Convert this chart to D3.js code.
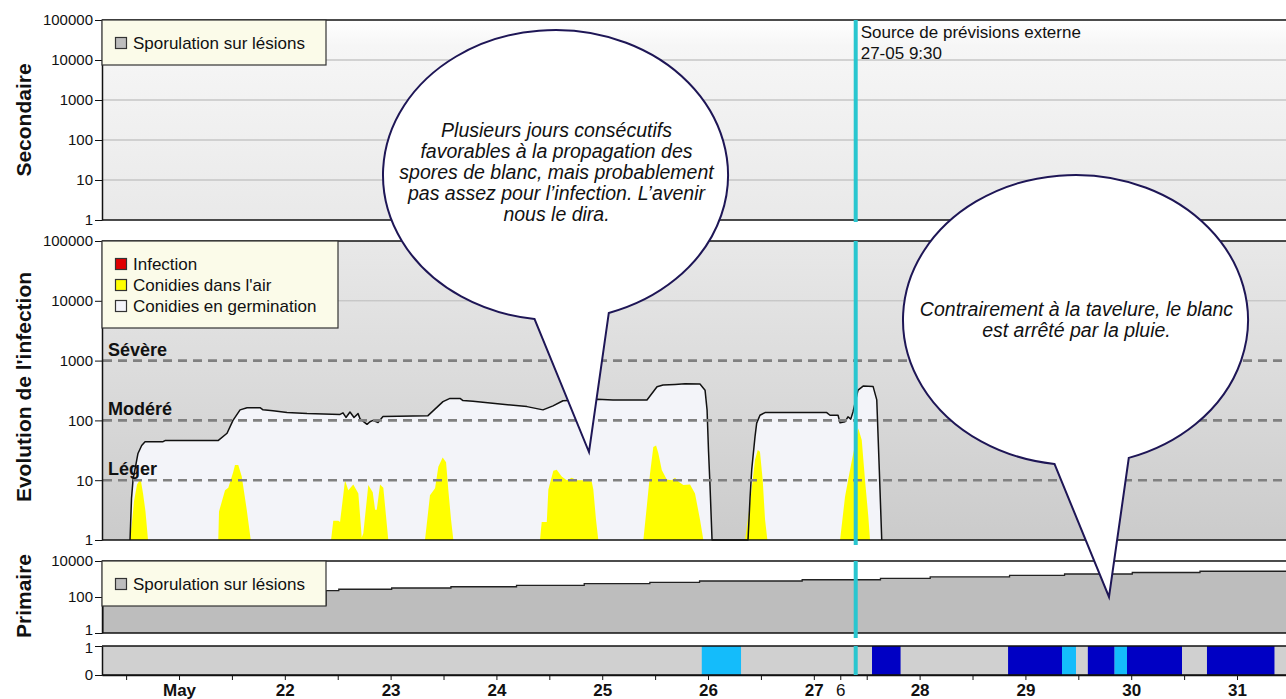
<!DOCTYPE html>
<html>
<head>
<meta charset="utf-8">
<script src="https://cdn.jsdelivr.net/npm/d3@7"></script>
<style>
  html, body { margin: 0; padding: 0; background: #fff; }
  svg { display: block; font-family: "Liberation Sans", Arial, Helvetica, sans-serif; }
</style>
</head>
<body>
<svg id="chart" width="1286" height="699"></svg>
<script>
// ---------------------------------------------------------------
// Data (times are decimal days of May: 20.5 = 20 May 12:00)
// ---------------------------------------------------------------
const dayLabelTimes = [21, 22, 23, 24, 25, 26, 27, 28, 29, 30, 31];
const dayLabels     = ["May", "22", "23", "24", "25", "26", "27", "28", "29", "30", "31"];
const hourTickTime  = 27.25;
const hourTickLabel = "6";

const forecastTime  = 27.396;                 // 27-05 9:30
const forecastText  = ["Source de prévisions externe", "27-05 9:30"];

const logTicksSec   = [1, 10, 100, 1000, 10000, 100000];
const logTicksInf   = [1, 10, 100, 1000, 10000, 100000];
const logTicksPri   = [1, 100, 10000];
const rainTicks     = [0, 1];

const levelValues   = [1000, 100, 10];
const levelLabels   = ["Sévère", "Modéré", "Léger"];

// conidies en germination
const germTimes = [20.537,20.551,20.565,20.612,20.647,20.679,20.849,20.868,21.369,21.454,
  21.510,21.577,21.643,21.766,21.794,21.888,22.021,22.210,22.522,22.550,
  22.578,22.616,22.654,22.692,22.711,22.777,22.805,22.834,22.881,22.928,
  23.353,23.495,23.561,23.656,23.684,23.779,24.034,24.289,24.440,24.535,
  24.629,24.951,25.102,25.423,25.518,25.575,25.688,25.783,25.924,25.972,
  25.991,26.005,26.019,26.038,26.378,26.397,26.413,26.444,26.460,26.491,
  26.539,27.122,27.153,27.229,27.248,27.295,27.323,27.349,27.371,27.418,
  27.466,27.560,27.595,27.619,27.642];
const germValues = [1,5,10,28,38,44,44,46,46,61,
  100,150,163,163,150,145,136,130,126,134,
  112,138,112,130,106,86,95,100,92,116,
  120,206,233,233,215,210,188,170,150,175,
  213,225,220,220,365,390,400,410,405,320,
  150,30,8,1,1,5,15,53,90,122,
  135,135,122,122,91,95,115,105,140,320,
  375,370,220,15,1];

// conidies dans l'air
const airTimes = [
  20.537,20.556,20.575,20.603,20.627,20.641,20.660,20.683,20.707,
  21.371,21.378,21.435,21.466,21.513,21.529,21.560,21.593,21.640,21.678,
  22.437,22.458,22.506,22.522,22.569,22.600,22.647,22.695,22.727,22.742,22.789,22.831,22.853,22.869,22.900,22.931,22.978,
  23.325,23.372,23.420,23.451,23.492,23.524,23.545,23.571,23.593,
  24.412,24.428,24.476,24.491,24.538,24.570,24.617,24.665,24.712,24.759,24.821,24.853,24.901,24.916,24.941,24.963,
  25.389,25.421,25.452,25.483,25.509,25.530,25.563,25.610,25.657,25.688,25.719,25.767,25.830,25.877,25.924,25.956,
  26.350,26.397,26.444,26.470,26.491,26.517,26.539,26.561,
  27.248,27.295,27.342,27.390,27.421,27.453,27.484,27.515,27.531];
const airValues = [
  1,2,4.5,8.5,10,9.5,6,3,1,
  1,3,6.8,7.5,13.8,18,18,11.5,3.2,1,
  1,2.1,2.1,2,10,6.8,8.5,6,1.1,1.3,8.3,6.3,3.2,3.2,8.5,7.5,1,
  1,5.6,7.3,16.8,24,20,7,2.2,1,
  1,2,2,7,14.4,15,11.5,10,11,10,10,10.3,9.4,7,2.2,1,
  1,3.6,13,36,38,28.5,14.8,10.3,10,11,9.5,8.3,8.5,6,2.2,1,
  1,4.1,21.7,32,30,10,2.2,1,
  1,5.3,14.8,40,73,47,10,2.5,1];

// sporulation primaire (cumulative, stepwise)
const primaryTimes  = [20.28, 20.28, 22.39, 22.51, 23.01, 23.57, 24.19, 24.83, 25.45, 25.92,
  26.89, 27.63, 28.10, 28.85, 29.37, 30.01, 30.65, 31.47];
const primaryValues = [1, 36, 224, 269, 316, 372, 447, 549, 656, 776,
  911, 1093, 1300, 1600, 1900, 2300, 2700, 2700];

// wetness / rain periods
const rainStart = [25.941, 27.550, 28.836, 29.346, 29.590, 29.843, 29.960, 30.716];
const rainEnd   = [26.312, 27.820, 29.346, 29.478, 29.843, 29.960, 30.480, 31.354];
const rainKind  = ["wet", "rain", "rain", "wet", "rain", "wet", "rain", "rain"];

const legendSecondary = [{ label: "Sporulation sur lésions", color: "#bdbdbd" }];
const legendInfection = [
  { label: "Infection", color: "#e00000" },
  { label: "Conidies dans l'air", color: "#ffff00" },
  { label: "Conidies en germination", color: "#f4f4fa" }
];
const legendPrimary = [{ label: "Sporulation sur lésions", color: "#bdbdbd" }];

const notes = [
  { time: 24.875, panel: "inf", value: 29.6,
    lines: ["Plusieurs jours consécutifs", "favorables à la propagation des",
            "spores de blanc, mais probablement", "pas assez pour l\u2019infection. L\u2019avenir",
            "nous le dira."], firstDy: -38 },
  { time: 29.79, panel: "pri", value: 100,
    lines: ["Contrairement à la tavelure, le blanc", "est arrêté par la pluie."], firstDy: -4.5 }
];

// ---------------------------------------------------------------
// Layout & scales
// ---------------------------------------------------------------
const W = 1286, left = 102;
const P = {
  sec:  { top: 20,  bottom: 220 },
  inf:  { top: 241, bottom: 540 },
  pri:  { top: 561, bottom: 633 },
  rain: { top: 646, bottom: 675 }
};
const toDate = d => new Date(Date.UTC(2019, 4, 1) + (d - 1) * 864e5);

const x = d3.scaleUtc().domain([toDate(20.272), toDate(31.463)]).range([left, W]);
const ySec  = d3.scaleLog().domain([1, 1e5]).range([P.sec.bottom, P.sec.top]);
const yInf  = d3.scaleLog().domain([1, 1e5]).range([P.inf.bottom, P.inf.top]);
const yPri  = d3.scaleLog().domain([1, 1e4]).range([P.pri.bottom, P.pri.top]);
const yRain = d3.scaleLinear().domain([0, 1]).range([P.rain.bottom, P.rain.top]);
const yOf = { sec: ySec, inf: yInf, pri: yPri };

const svg = d3.select("#chart");
const defs = svg.append("defs");
defs.append("clipPath").attr("id", "plotClip")
  .append("rect").attr("x", left).attr("y", 0).attr("width", W - left).attr("height", 699);

function vGradient(id, stops) {
  const g = defs.append("linearGradient").attr("id", id)
    .attr("x1", 0).attr("y1", 0).attr("x2", 0).attr("y2", 1);
  stops.forEach(([o, c]) => g.append("stop").attr("offset", o).attr("stop-color", c));
}
vGradient("gSec", [[0, "#ffffff"], [0.13, "#f6f6f6"], [1, "#e9e9e9"]]);
vGradient("gInf", [[0, "#e8e8e8"], [0.5, "#dadada"], [1, "#cbcbcb"]]);

const plot = svg.append("g").attr("clip-path", "url(#plotClip)");

// ---------------------------------------------------------------
// Secondary panel
// ---------------------------------------------------------------
plot.append("rect").attr("x", left).attr("y", P.sec.top)
  .attr("width", W - left).attr("height", P.sec.bottom - P.sec.top).attr("fill", "url(#gSec)");
plot.selectAll(".gridSec").data(logTicksSec.slice(1, -1)).join("line")
  .attr("x1", left).attr("x2", W).attr("y1", d => ySec(d)).attr("y2", d => ySec(d))
  .attr("stroke", "#c6c6c6").attr("stroke-width", 1.3);

// ---------------------------------------------------------------
// Infection panel
// ---------------------------------------------------------------
plot.append("rect").attr("x", left).attr("y", P.inf.top)
  .attr("width", W - left).attr("height", P.inf.bottom - P.inf.top).attr("fill", "url(#gInf)");
plot.append("line").attr("x1", left).attr("x2", W)
  .attr("y1", yInf(10000)).attr("y2", yInf(10000)).attr("stroke", "#bdbdbd").attr("stroke-width", 1);

const germ = germTimes.map((t, i) => ({ t: toDate(t), v: germValues[i] }));
const air  = airTimes.map((t, i) => ({ t: toDate(t), v: airValues[i] }));

plot.append("path").datum(germ)
  .attr("fill", "#f3f4f9")
  .attr("d", d3.area().x(d => x(d.t)).y0(yInf(1)).y1(d => yInf(d.v)));
plot.append("path").datum(air)
  .attr("fill", "#ffff00")
  .attr("d", d3.area().x(d => x(d.t)).y0(yInf(1)).y1(d => yInf(d.v)));
plot.append("path").datum(germ)
  .attr("fill", "none").attr("stroke", "#111").attr("stroke-width", 1.5)
  .attr("stroke-linejoin", "round")
  .attr("d", d3.line().x(d => x(d.t)).y(d => yInf(d.v)));

// severity thresholds
plot.selectAll(".level").data(levelValues).join("line")
  .attr("x1", left + 1).attr("x2", W).attr("y1", d => yInf(d)).attr("y2", d => yInf(d))
  .attr("stroke", "#808080").attr("stroke-width", 2.6).attr("stroke-dasharray", "9,6");
svg.selectAll(".levelLabel").data(levelValues).join("text")
  .attr("x", left + 6).attr("y", d => yInf(d) - 5)
  .attr("font-size", 18).attr("font-weight", "bold").attr("fill", "#111")
  .text((d, i) => levelLabels[i]);

// ---------------------------------------------------------------
// Primary panel
// ---------------------------------------------------------------
plot.append("rect").attr("x", left).attr("y", P.pri.top)
  .attr("width", W - left).attr("height", P.pri.bottom - P.pri.top).attr("fill", "#ffffff");
const prim = primaryTimes.map((t, i) => ({ t: toDate(t), v: primaryValues[i] }));
plot.append("path").datum(prim).attr("fill", "#bdbdbd")
  .attr("d", d3.area().curve(d3.curveStepAfter).x(d => x(d.t)).y0(yPri(1)).y1(d => yPri(d.v)));
plot.append("path").datum(prim).attr("fill", "none").attr("stroke", "#222").attr("stroke-width", 1.3)
  .attr("d", d3.line().curve(d3.curveStepAfter).x(d => x(d.t)).y(d => yPri(d.v)));

// ---------------------------------------------------------------
// Rain panel
// ---------------------------------------------------------------
plot.append("rect").attr("x", left).attr("y", P.rain.top)
  .attr("width", W - left).attr("height", P.rain.bottom - P.rain.top).attr("fill", "#d0d0d0");
const rain = rainStart.map((s, i) => ({ s: toDate(s), e: toDate(rainEnd[i]), k: rainKind[i] }));
plot.selectAll(".rain").data(rain).join("rect")
  .attr("x", d => x(d.s)).attr("width", d => x(d.e) - x(d.s))
  .attr("y", yRain(1)).attr("height", yRain(0) - yRain(1))
  .attr("fill", d => d.k === "rain" ? "#0000c4" : "#14bcfb");

// ---------------------------------------------------------------
// Panel frames (top/bottom rules)
// ---------------------------------------------------------------
Object.values(P).forEach(p => {
  [p.top, p.bottom].forEach(yy => {
    svg.append("line").attr("x1", left).attr("x2", W).attr("y1", yy).attr("y2", yy)
      .attr("stroke", "#111").attr("stroke-width", 1.5);
  });
});

// ---------------------------------------------------------------
// Axes
// ---------------------------------------------------------------
function styleAxis(g, size) {
  g.attr("font-family", null).attr("font-size", null);
  g.selectAll("text").attr("font-size", size).attr("fill", "#111");
  g.selectAll("line").attr("stroke", "#111");
  g.select(".domain").attr("stroke", "#111").attr("stroke-width", 1.5);
}
const fmt = d3.format("d");
const yAxes = [[ySec, logTicksSec], [yInf, logTicksInf], [yPri, logTicksPri], [yRain, rainTicks]].map(([sc, tv]) => {
  const g = svg.append("g").attr("transform", `translate(${left},0)`)
    .call(d3.axisLeft(sc).tickValues(tv).tickFormat(fmt).tickSize(7).tickPadding(2).tickSizeOuter(0));
  styleAxis(g, 15);
  return g;
});
// the primary "1" and the wetness "1" sit close together: nudge them apart
yAxes[2].selectAll(".tick text").filter(d => d === 1).attr("y", -3);
yAxes[3].selectAll(".tick text").filter(d => d === 1).attr("y", 1.5);

const tickDays = dayLabelTimes.flatMap(d => [d - 0.5, d]).concat([hourTickTime]);
const tickText = new Map();
dayLabelTimes.forEach((d, i) => tickText.set(toDate(d).getTime(), dayLabels[i]));
tickText.set(toDate(hourTickTime).getTime(), hourTickLabel);
const xg = svg.append("g").attr("transform", `translate(0,${P.rain.bottom})`)
  .call(d3.axisBottom(x).tickValues(tickDays.map(toDate))
    .tickFormat(dt => tickText.get(dt.getTime()) || "")
    .tickSize(5).tickPadding(4).tickSizeOuter(0));
styleAxis(xg, 17);
xg.selectAll("text").attr("font-weight", d => tickText.get(d.getTime()) === hourTickLabel ? "normal" : "bold");

// ---------------------------------------------------------------
// Forecast marker
// ---------------------------------------------------------------
const fx = x(toDate(forecastTime));
[[P.sec.top, P.sec.bottom + 2], [P.inf.top, P.inf.bottom + 5],
 [P.pri.top, P.pri.bottom + 5], [P.rain.top, P.rain.bottom]].forEach(([a, b]) => {
  svg.append("line").attr("x1", fx).attr("x2", fx).attr("y1", a).attr("y2", b)
    .attr("stroke", "#29c6cf").attr("stroke-width", 4);
});
svg.append("text").attr("x", fx + 5).attr("y", P.sec.top + 18).attr("font-size", 17).attr("fill", "#111")
  .selectAll("tspan").data(forecastText).join("tspan")
  .attr("x", fx + 5).attr("dy", (d, i) => i ? 20.5 : 0).text(d => d);

// ---------------------------------------------------------------
// Legends
// ---------------------------------------------------------------
function legend(top, width, items) {
  const h = 24 + items.length * 21;
  const g = svg.append("g");
  g.append("rect").attr("x", left).attr("y", top).attr("width", width).attr("height", h)
    .attr("fill", "#fbfbe9").attr("stroke", "#333").attr("stroke-width", 1.2);
  items.forEach((it, i) => {
    const cy = top + 23 + i * 21;
    g.append("rect").attr("x", left + 13.5).attr("y", cy - 5.5).attr("width", 11).attr("height", 11)
      .attr("fill", it.color).attr("stroke", "#333").attr("stroke-width", 1.2);
    g.append("text").attr("x", left + 31).attr("y", cy + 6).attr("font-size", 17).attr("fill", "#111")
      .text(it.label);
  });
}
legend(P.sec.top, 224, legendSecondary);
legend(P.inf.top, 236, legendInfection);
legend(P.pri.top, 224, legendPrimary);

// ---------------------------------------------------------------
// Axis titles
// ---------------------------------------------------------------
[["Secondaire", 120], ["Evolution de l'infection", 387], ["Primaire", 596]].forEach(([t, cy]) => {
  svg.append("text").attr("transform", `translate(31,${cy}) rotate(-90)`)
    .attr("text-anchor", "middle").attr("font-size", 21).attr("font-weight", "bold").attr("fill", "#111")
    .text(t);
});

// ---------------------------------------------------------------
// Speech bubbles
// ---------------------------------------------------------------
const bub = { rx: 172.5, ry: 145, tipDx: 33.5, tipDy: 277, a1: 97, a2: 72 };
notes.forEach(n => {
  const tx = x(toDate(n.time)), ty = yOf[n.panel](n.value);
  const cx = tx - bub.tipDx, cy = ty - bub.tipDy;
  const A = [cx + bub.rx * Math.cos(bub.a1 * Math.PI / 180), cy + bub.ry * Math.sin(bub.a1 * Math.PI / 180)];
  const B = [cx + bub.rx * Math.cos(bub.a2 * Math.PI / 180), cy + bub.ry * Math.sin(bub.a2 * Math.PI / 180)];
  svg.append("path")
    .attr("d", `M${A[0]},${A[1]}L${tx},${ty}L${B[0]},${B[1]}A${bub.rx},${bub.ry} 0 1 0 ${A[0]},${A[1]}Z`)
    .attr("fill", "#ffffff").attr("stroke", "#1e1656").attr("stroke-width", 2).attr("stroke-linejoin", "miter");
  svg.append("text").attr("text-anchor", "middle").attr("font-size", 19.5).attr("font-style", "italic")
    .attr("fill", "#111")
    .selectAll("tspan").data(n.lines).join("tspan")
    .attr("x", cx + 1).attr("y", (d, i) => cy + n.firstDy + i * 21).text(d => d);
});
</script>
</body>
</html>
